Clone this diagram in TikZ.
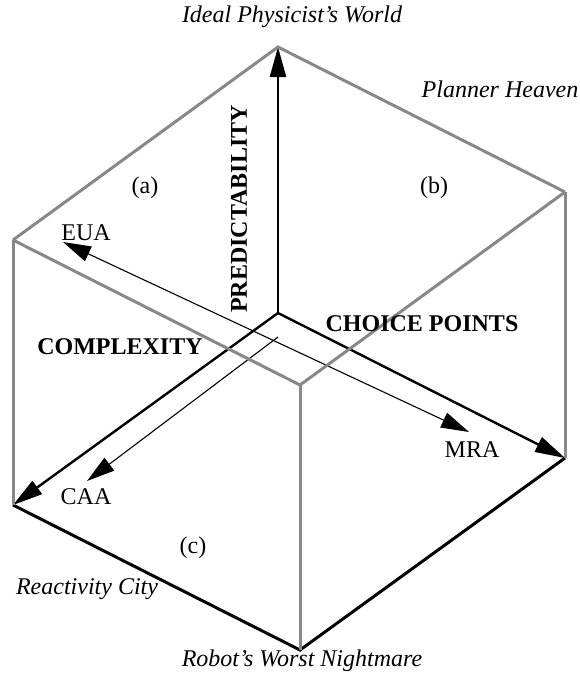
\documentclass[tikz,border=0pt]{standalone}
\usepackage{fontspec}
\setmainfont{Liberation Serif}
\usetikzlibrary{arrows.meta}
\definecolor{edgegray}{RGB}{136,136,136}
\begin{document}
\begin{tikzpicture}[x=1pt,y=-1pt,
  hidden/.style={draw=edgegray,line width=3pt,line join=miter,line cap=butt},
  rim/.style={draw=black,line width=3pt,line join=miter},
  axisline/.style={draw=black,line width=2.4pt,-{Triangle[length=30pt,width=16pt]}},
  probe/.style={draw=black,line width=1.1pt},
  lbl/.style={inner sep=0pt,font=\fontsize{24}{28}\selectfont},
  place/.style={inner sep=0pt,font=\fontsize{24}{28}\selectfont\itshape},
  axlbl/.style={inner sep=0pt,font=\fontsize{24}{28}\selectfont\bfseries}]
\useasboundingbox (0,0) rectangle (580,675);

% cube corners
\coordinate (O)  at (278,313);  % origin of the three axes
\coordinate (P)  at (278,47);   % top
\coordinate (LT) at (13,240);
\coordinate (RT) at (565,192);
\coordinate (LB) at (13,505);
\coordinate (RB) at (565,458);
\coordinate (F)  at (300,385);
\coordinate (B)  at (300,650);

% ends of the thin arrows
\coordinate (eua) at (63,242);
\coordinate (mra) at (469,432);
\coordinate (caas) at (278,337);
\coordinate (caae) at (87,481);

% front lower rim
\draw[rim] (LB) -- (B) -- (RB);

% axes
\draw[axisline] (O) -- (P);
\draw[axisline] (O) -- (LB);
\draw[axisline] (O) -- (RB);

% thin arrows
\draw[probe,{Triangle[length=28pt,width=16pt]}-{Triangle[length=28pt,width=16pt]}] (eua) -- (mra);
\draw[probe,-{Triangle[length=28pt,width=16pt]}] (caas) -- (caae);

% grey edges
\draw[hidden] (LT) -- (P) -- (RT);
\draw[hidden] (LT) -- (F) -- (RT);
\draw[hidden] (LT) -- (LB);
\draw[hidden] (RT) -- (RB);
\draw[hidden] (F) -- (B);

% labels
\node[place] (ipw) at (292,17) {Ideal Physicist’s World};
\node[place] (ph)  at (500,89) {Planner Heaven};
\node[place] (rc)  at (87,589) {Reactivity City};
\node[place] (rwn) at (302,661) {Robot’s Worst Nightmare};
\node[lbl] (la) at (145,188) {(a)};
\node[lbl] (lb) at (434,188) {(b)};
\node[lbl] (lc) at (193,548) {(c)};
\node[lbl] (teua) at (86,233) {EUA};
\node[lbl] (tmra) at (472,450) {MRA};
\node[lbl] (tcaa) at (86,497) {CAA};
\node[axlbl,rotate=90] (pred) at (239,209) {PREDICTABILITY};
\node[axlbl] (cp)  at (422,324) {CHOICE POINTS};
\node[axlbl] (cx)  at (120,347) {COMPLEXITY};
\end{tikzpicture}
\end{document}
